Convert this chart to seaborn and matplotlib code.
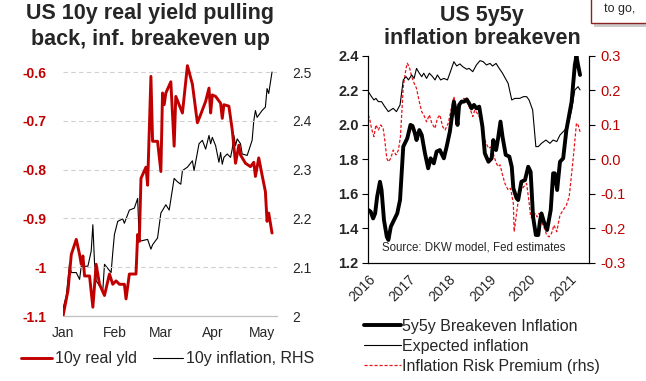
import numpy as np
import pandas as pd
import matplotlib
matplotlib.use("Agg")
import matplotlib.pyplot as plt
import matplotlib.dates as mdates
from matplotlib.patches import Rectangle
from matplotlib.lines import Line2D
import seaborn as sns

# ---- left panel: 2021 daily data ----
real_dates = ["2021-01-01", "2021-01-04", "2021-01-06", "2021-01-09", "2021-01-11", "2021-01-12",
              "2021-01-13", "2021-01-14", "2021-01-17", "2021-01-19", "2021-01-21", "2021-01-23",
              "2021-01-26", "2021-01-29", "2021-01-31", "2021-02-02", "2021-02-04", "2021-02-07",
              "2021-02-08", "2021-02-10", "2021-02-14", "2021-02-15", "2021-02-16", "2021-02-17",
              "2021-02-20", "2021-02-21", "2021-02-23", "2021-02-24", "2021-02-27", "2021-03-01",
              "2021-03-02", "2021-03-03", "2021-03-04", "2021-03-07", "2021-03-09", "2021-03-10",
              "2021-03-14", "2021-03-17", "2021-03-20", "2021-03-23", "2021-03-25", "2021-03-28",
              "2021-03-30", "2021-03-31", "2021-04-01", "2021-04-03", "2021-04-06", "2021-04-07",
              "2021-04-08", "2021-04-11", "2021-04-13", "2021-04-15", "2021-04-17", "2021-04-18",
              "2021-04-21", "2021-04-24", "2021-04-26", "2021-04-27", "2021-04-29", "2021-05-01",
              "2021-05-03", "2021-05-04", "2021-05-05", "2021-05-07"]
real_yld = [-1.10, -1.048, -0.974, -0.943, -0.974, -0.994, -0.977, -1.018, -1.018, -1.082, -0.994,
            -1.035, -1.058, -1.014, -1.035, -1.028, -1.035, -1.035, -1.065, -1.014, -1.014, -0.933,
            -0.947, -0.818, -0.795, -0.832, -0.609, -0.742, -0.742, -0.804, -0.643, -0.667, -0.643,
            -0.62, -0.752, -0.65, -0.684, -0.587, -0.625, -0.704, -0.687, -0.66, -0.633, -0.684,
            -0.647, -0.65, -0.664, -0.695, -0.667, -0.67, -0.718, -0.787, -0.75, -0.77, -0.787,
            -0.794, -0.785, -0.814, -0.776, -0.811, -0.845, -0.906, -0.889, -0.93]

infl_dates = ["2021-01-01", "2021-01-03", "2021-01-05", "2021-01-06", "2021-01-09", "2021-01-11",
              "2021-01-12", "2021-01-16", "2021-01-18", "2021-01-19", "2021-01-20", "2021-01-21",
              "2021-01-23", "2021-01-25", "2021-01-26", "2021-01-30", "2021-01-31", "2021-02-01",
              "2021-02-03", "2021-02-06", "2021-02-07", "2021-02-10", "2021-02-13", "2021-02-15",
              "2021-02-16", "2021-02-21", "2021-02-23", "2021-02-24", "2021-02-27", "2021-03-01",
              "2021-03-04", "2021-03-06", "2021-03-09", "2021-03-11", "2021-03-13", "2021-03-14",
              "2021-03-17", "2021-03-20", "2021-03-21", "2021-03-24", "2021-03-26", "2021-03-28",
              "2021-03-30", "2021-03-31", "2021-04-01", "2021-04-03", "2021-04-05", "2021-04-06",
              "2021-04-07", "2021-04-08", "2021-04-10", "2021-04-12", "2021-04-13", "2021-04-14",
              "2021-04-15", "2021-04-16", "2021-04-18", "2021-04-19", "2021-04-22", "2021-04-23",
              "2021-04-25", "2021-04-26", "2021-04-27", "2021-04-28", "2021-05-01", "2021-05-03",
              "2021-05-04", "2021-05-05", "2021-05-07"]
infl_10y = [2.015, 2.042, 2.109, 2.089, 2.089, 2.075, 2.102, 2.102, 2.133, 2.187, 2.109, 2.072,
            2.062, 2.052, 2.106, 2.089, 2.13, 2.167, 2.194, 2.199, 2.19, 2.217, 2.221, 2.241,
            2.153, 2.157, 2.137, 2.146, 2.16, 2.211, 2.228, 2.217, 2.282, 2.275, 2.27, 2.298,
            2.305, 2.318, 2.298, 2.353, 2.36, 2.342, 2.37, 2.353, 2.366, 2.349, 2.315, 2.335,
            2.311, 2.325, 2.332, 2.325, 2.342, 2.37, 2.349, 2.363, 2.353, 2.332, 2.329, 2.339,
            2.36, 2.40, 2.421, 2.407, 2.421, 2.428, 2.466, 2.456, 2.50]

left_ticks = [-1.1, -1.0, -0.9, -0.8, -0.7, -0.6]
left_labels = ["-1.1", "-1", "-0.9", "-0.8", "-0.7", "-0.6"]
rhs_ticks = [2.0, 2.1, 2.2, 2.3, 2.4, 2.5]
rhs_labels = ["2", "2.1", "2.2", "2.3", "2.4", "2.5"]

# ---- right panel: 5y5y, years as decimals ----
be_years = [2016.00, 2016.06, 2016.12, 2016.17, 2016.22, 2016.29, 2016.33, 2016.39, 2016.46,
            2016.50, 2016.56, 2016.62, 2016.72, 2016.79, 2016.87, 2016.97,
            2017.05, 2017.10, 2017.16, 2017.20, 2017.27, 2017.33, 2017.41, 2017.49, 2017.55,
            2017.63, 2017.70, 2017.78, 2017.88, 2017.95,
            2018.03, 2018.13, 2018.18, 2018.22, 2018.26, 2018.32, 2018.38, 2018.45, 2018.51,
            2018.57, 2018.63, 2018.69, 2018.76, 2018.84, 2018.90, 2018.99,
            2019.07, 2019.11, 2019.18, 2019.23, 2019.29, 2019.34, 2019.42, 2019.51, 2019.57,
            2019.61, 2019.69, 2019.73, 2019.81, 2019.90, 2019.98,
            2020.04, 2020.10, 2020.17, 2020.23, 2020.27, 2020.31, 2020.37, 2020.45, 2020.54,
            2020.60, 2020.64, 2020.70, 2020.77, 2020.85, 2020.93,
            2021.06, 2021.14, 2021.18, 2021.22, 2021.27]
be_5y5y = [1.506, 1.496, 1.457, 1.486, 1.583, 1.67, 1.622, 1.448, 1.351, 1.332, 1.409, 1.438,
           1.486, 1.564, 1.874, 1.922,
           2.0, 1.994, 1.951, 1.912, 1.97, 1.941, 1.835, 1.748, 1.806, 1.777, 1.845, 1.854,
           1.806, 1.874,
           1.961, 2.135, 2.077, 2.0, 2.116, 2.135, 2.135, 2.148, 2.125, 2.096, 2.116, 2.096,
           2.106, 1.99, 1.835, 1.786,
           1.806, 1.912, 1.854, 1.922, 2.019, 1.932, 1.826, 1.816, 1.757, 1.632, 1.574, 1.564,
           1.67, 1.68, 1.757,
           1.728, 1.467, 1.361, 1.361, 1.438, 1.486, 1.438, 1.39, 1.506, 1.719, 1.719, 1.622,
           1.786, 1.806, 1.97,
           2.135, 2.348, 2.4, 2.348, 2.29]

exp_years = [2016.00, 2016.08, 2016.14, 2016.19, 2016.25, 2016.33, 2016.41, 2016.50, 2016.56,
             2016.62, 2016.70, 2016.79, 2016.87, 2016.94,
             2017.00, 2017.08, 2017.14, 2017.20, 2017.27, 2017.33, 2017.38, 2017.45, 2017.52,
             2017.60, 2017.66, 2017.72, 2017.80, 2017.88, 2017.97,
             2018.03, 2018.13, 2018.20, 2018.28, 2018.35, 2018.45, 2018.51, 2018.60, 2018.69,
             2018.78, 2018.86, 2018.94,
             2019.03, 2019.09, 2019.18, 2019.23, 2019.34, 2019.48, 2019.57, 2019.65, 2019.77,
             2019.86, 2019.94,
             2020.00, 2020.09, 2020.17, 2020.23, 2020.31, 2020.42, 2020.52, 2020.60, 2020.69,
             2020.77, 2020.89, 2020.98,
             2021.06, 2021.14, 2021.22, 2021.27]
exp_infl = [2.193, 2.164, 2.145, 2.154, 2.135, 2.135, 2.106, 2.077, 2.087, 2.096, 2.077, 2.116,
            2.261, 2.28,
            2.261, 2.29, 2.27, 2.328, 2.3, 2.28, 2.3, 2.27, 2.3, 2.28, 2.261, 2.29, 2.261, 2.27,
            2.261,
            2.3, 2.367, 2.342, 2.354, 2.338, 2.323, 2.328, 2.309, 2.348, 2.373, 2.367, 2.348,
            2.357, 2.342, 2.357, 2.338, 2.3, 2.241, 2.145, 2.154, 2.154, 2.164, 2.164,
            2.145, 2.087, 1.874, 1.874, 1.893, 1.912, 1.893, 1.912, 1.903, 1.941, 1.97, 2.009,
            2.087, 2.203, 2.222, 2.203]

irp_years = [2016.00, 2016.04, 2016.08, 2016.14, 2016.19, 2016.25, 2016.31, 2016.37, 2016.41,
             2016.46, 2016.50, 2016.56, 2016.62, 2016.69, 2016.75, 2016.80, 2016.87, 2016.94,
             2016.97,
             2017.02, 2017.08, 2017.14, 2017.20, 2017.27, 2017.33, 2017.38, 2017.45, 2017.52,
             2017.58, 2017.66, 2017.72, 2017.78, 2017.85, 2017.91, 2017.99,
             2018.05, 2018.13, 2018.20, 2018.26, 2018.32, 2018.38, 2018.45, 2018.53, 2018.60,
             2018.65, 2018.74, 2018.82, 2018.90, 2018.99,
             2019.07, 2019.13, 2019.19, 2019.23, 2019.28, 2019.34, 2019.40, 2019.48, 2019.54,
             2019.61, 2019.63, 2019.69, 2019.76, 2019.81, 2019.87, 2019.94,
             2020.00, 2020.04, 2020.10, 2020.15, 2020.20, 2020.25, 2020.31, 2020.37, 2020.44,
             2020.50, 2020.56, 2020.62, 2020.69, 2020.77, 2020.85, 2020.93,
             2021.00, 2021.06, 2021.12, 2021.18, 2021.22, 2021.27]
irp = [0.129, 0.114, 0.09, 0.066, 0.1, 0.085, 0.1, 0.09, 0.056, 0.003, -0.007, 0.003, 0.027,
       0.013, 0.027, 0.066, 0.211, 0.264, 0.279,
       0.269, 0.24, 0.221, 0.206, 0.167, 0.138, 0.129, 0.109, 0.129, 0.105, 0.09, 0.119, 0.129,
       0.095, 0.085, 0.105,
       0.138, 0.182, 0.138, 0.153, 0.172, 0.177, 0.167, 0.148, 0.124, 0.143, 0.129, 0.109,
       0.056, 0.032,
       0.037, 0.008, -0.012, -0.021, -0.016, -0.045, -0.07, -0.089, -0.084, -0.128, -0.21,
       -0.157, -0.094, -0.089, -0.079, -0.07,
       -0.123, -0.167, -0.171, -0.157, -0.167, -0.157, -0.181, -0.196, -0.22, -0.225, -0.215,
       -0.191, -0.21, -0.162, -0.147, -0.133,
       -0.108, -0.041, 0.027, 0.105, 0.1, 0.08]

be_ticks = [1.2, 1.4, 1.6, 1.8, 2.0, 2.2, 2.4]
irp_ticks = [-0.3, -0.2, -0.1, 0.0, 0.1, 0.2, 0.3]
year_ticks = [2016, 2017, 2018, 2019, 2020, 2021]

RED = "#C00000"
W, H = 646, 381

sns.set_style("white")
plt.rcParams["font.family"] = ["Liberation Sans", "DejaVu Sans"]

fig = plt.figure(figsize=(W / 100, H / 100), dpi=100)

# ================= left panel =================
ax1 = fig.add_axes([63 / W, 65 / H, 214 / W, 254 / H])
ax1b = ax1.twinx()

real_df = pd.DataFrame({"date": pd.to_datetime(real_dates), "val": real_yld})
infl_df = pd.DataFrame({"date": pd.to_datetime(infl_dates), "val": infl_10y})

span = 254 / 488  # data units shown over the axis height
ax1.set_ylim(-1.1, -1.1 + span)
ax1b.set_ylim(2.0, 2.0 + span)
for y in left_ticks:
    ax1.axhline(y, color="#D0D0D0", lw=0.8, ls=(0, (4, 3)), zorder=0)

sns.lineplot(data=infl_df, x="date", y="val", ax=ax1b, color="black", lw=0.8,
             estimator=None, sort=False, legend=False)
sns.lineplot(data=real_df, x="date", y="val", ax=ax1, color=RED, lw=2.1,
             estimator=None, sort=False, legend=False, zorder=3)
ax1.set_zorder(ax1b.get_zorder() + 1)
ax1.patch.set_visible(False)

ax1.set_xlim(pd.Timestamp("2021-01-01"), pd.Timestamp("2021-05-10"))
ax1.xaxis.set_major_locator(mdates.MonthLocator())
ax1.xaxis.set_major_formatter(mdates.DateFormatter("%b"))
ax1.set_yticks(left_ticks)
ax1.set_yticklabels(left_labels, color=RED, fontweight="bold", fontsize=10)
ax1b.set_yticks(rhs_ticks)
ax1b.set_yticklabels(rhs_labels, fontsize=10)
ax1.tick_params(axis="y", length=0, pad=12)
ax1b.tick_params(axis="y", length=0, pad=11)
ax1.tick_params(axis="x", length=4, color="#BFBFBF", labelsize=10, pad=3)
ax1.set_xlabel("")
ax1.set_ylabel("")
ax1b.set_ylabel("")
for a in (ax1, ax1b):
    for s in ("left", "right", "top"):
        a.spines[s].set_visible(False)
    a.spines["bottom"].set_color("#BFBFBF")

fig.text(150 / W, 1 - 13 / H, "US 10y real yield pulling", ha="center", va="center",
         fontsize=15.5, fontweight="bold")
fig.text(150 / W, 1 - 39 / H, "back, inf. breakeven up", ha="center", va="center",
         fontsize=15.5, fontweight="bold")

left_handles = [Line2D([], [], color=RED, lw=2.1), Line2D([], [], color="black", lw=0.8)]
fig.legend(left_handles, ["10y real yld", "10y inflation, RHS"], loc="center",
           bbox_to_anchor=(168 / W, 1 - 359 / H), ncol=2, frameon=False, fontsize=11.5,
           handlelength=1.9, handletextpad=0.2, columnspacing=1.0, borderpad=0)

# ================= right panel =================
ax2 = fig.add_axes([368.3 / W, (H - 262.7) / H, 221 / W, 206.7 / H])
ax2b = ax2.twinx()

be_df = pd.DataFrame({"year": be_years, "val": be_5y5y})
exp_df = pd.DataFrame({"year": exp_years, "val": exp_infl})
irp_df = pd.DataFrame({"year": irp_years, "val": irp})

sns.lineplot(data=irp_df, x="year", y="val", ax=ax2b, color="#E8141B", lw=0.9,
             linestyle=(0, (2.5, 1.5)), estimator=None, sort=False, legend=False)
sns.lineplot(data=exp_df, x="year", y="val", ax=ax2, color="black", lw=0.8,
             estimator=None, sort=False, legend=False)
sns.lineplot(data=be_df, x="year", y="val", ax=ax2, color="black", lw=2.8,
             estimator=None, sort=False, legend=False)
ax2.set_zorder(ax2b.get_zorder() + 1)
ax2.patch.set_visible(False)

ax2.set_xlim(2016, 2021.5)
ax2.set_ylim(1.2, 2.4)
ax2b.set_ylim(-0.3, 0.3)
ax2.set_xticks(year_ticks)
ax2.set_xticklabels([str(y) for y in year_ticks], rotation=45, ha="right",
                    rotation_mode="anchor", fontsize=10)
ax2.set_yticks(be_ticks)
ax2.set_yticklabels([f"{v:.1f}" for v in be_ticks], fontweight="bold", fontsize=10.5)
ax2b.set_yticks(irp_ticks)
ax2b.set_yticklabels([f"{v:.1f}" for v in irp_ticks], color=RED, fontsize=10.5)
ax2.tick_params(axis="both", direction="out", length=4, width=0.8, color="black", pad=3)
ax2b.tick_params(axis="y", direction="out", length=4, width=0.8, color="black", pad=4)
ax2.set_xlabel("")
ax2.set_ylabel("")
ax2b.set_ylabel("")
for a in (ax2, ax2b):
    a.spines["top"].set_visible(False)
    for s in ("left", "right", "bottom"):
        a.spines[s].set_color("black")
        a.spines[s].set_linewidth(0.8)

ax2.text(0.06, 0.045, "Source: DKW model, Fed estimates", transform=ax2.transAxes,
         fontsize=8.3, va="bottom", ha="left")

fig.text(482 / W, 1 - 16 / H, "US 5y5y", ha="center", va="center",
         fontsize=15.5, fontweight="bold")
fig.text(482 / W, 1 - 39 / H, "inflation breakeven", ha="center", va="center",
         fontsize=15.5, fontweight="bold")

right_handles = [Line2D([], [], color="black", lw=2.8),
                 Line2D([], [], color="black", lw=0.8),
                 Line2D([], [], color="#E8141B", lw=0.9, ls=(0, (2.5, 1.5)))]
fig.legend(right_handles, ["5y5y Breakeven Inflation", "Expected inflation",
                           "Inflation Risk Premium (rhs)"],
           loc="upper left", bbox_to_anchor=(356 / W, 1 - 311 / H), frameon=False,
           fontsize=11.5, handlelength=2.3, handletextpad=0.1, labelspacing=0.3,
           borderpad=0)

# partial text box in the top right corner
fig.patches.append(Rectangle((594 / W, 1 - 27 / H), 60 / W, 30 / H,
                             transform=fig.transFigure, facecolor="#BFBFBF",
                             edgecolor="none", zorder=0, alpha=0.8))
fig.patches.append(Rectangle((590.5 / W, 1 - 23.3 / H), 60 / W, 30 / H,
                             transform=fig.transFigure, facecolor="white",
                             edgecolor="#8B2323", lw=1.0, zorder=1))
fig.text(604 / W, 1 - 9 / H, "to go,", fontsize=9, ha="left", va="center", zorder=2)

plt.savefig("out.png", dpi=100)
